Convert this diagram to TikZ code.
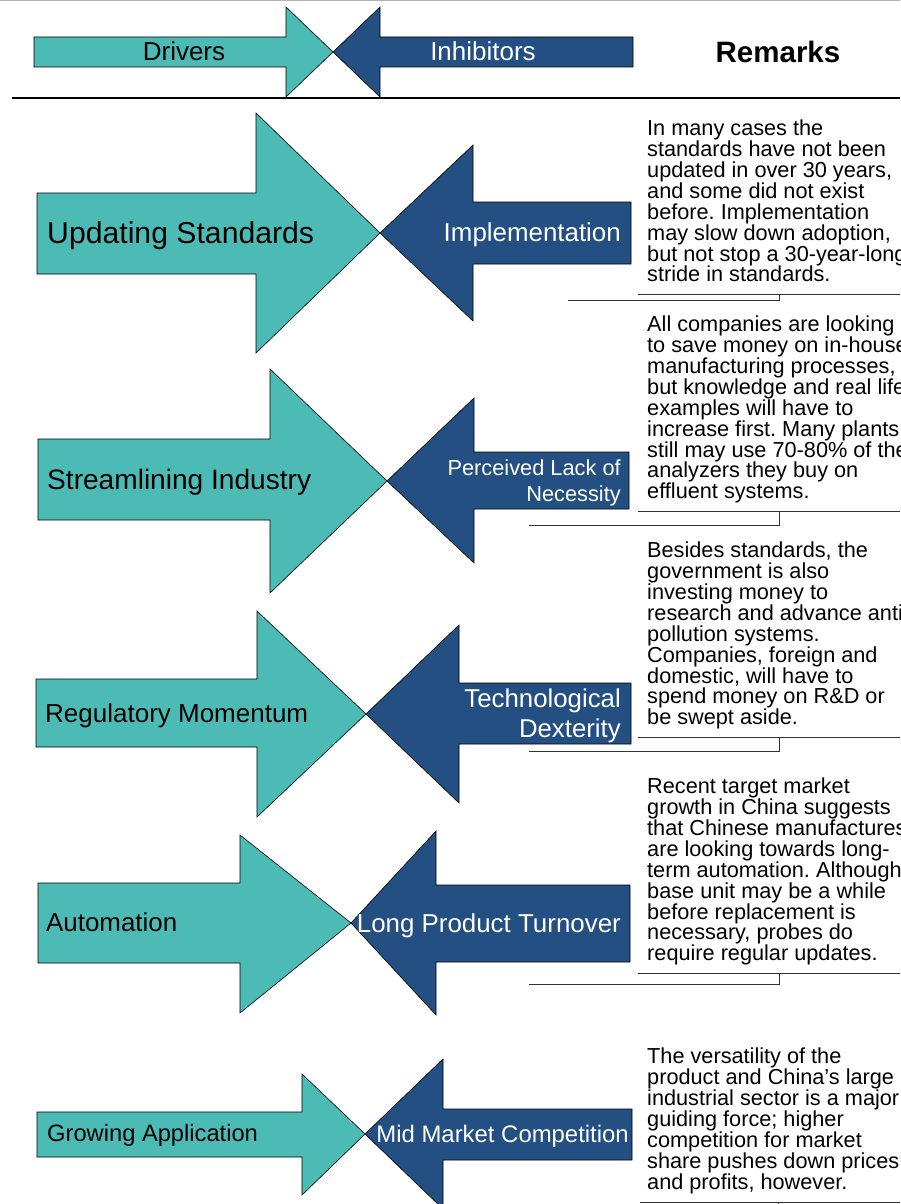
\documentclass[tikz,border=0pt]{standalone}
\usepackage{fontspec}
\setmainfont{Liberation Sans}
\frenchspacing
\definecolor{drvteal}{RGB}{77,187,181}
\definecolor{inhblue}{RGB}{35,79,130}
\newcommand\remfont{\fontsize{21.7}{20.85}\selectfont\lineskiplimit=-30pt}
\newcommand\fsz[2]{\fontsize{#1}{#2}\selectfont}

\begin{document}
\begin{tikzpicture}[x=1pt,y=-1pt,
  drv/.style={fill=drvteal,draw=black,line width=0.6pt},
  inh/.style={fill=inhblue,draw=black,line width=0.6pt},
  hdr/.style={inner sep=0pt,anchor=base},
  lbl/.style={inner sep=0pt,anchor=base west},
  inhlbl/.style={inner sep=0pt,anchor=base east,align=right,text=white},
  remark/.style={inner sep=0pt,anchor=north west,align=left,font=\remfont},
  leader/.style={line width=1pt,draw=black!80}]

  \useasboundingbox (0,0) rectangle (900,1204);
  \draw[gray!60] (0,0.5) -- (900,0.5);

  \draw[drv] (34,37) -- (286,37) -- (286,7) -- (333,52) -- (286,97) -- (286,67) -- (34,67) -- cycle;
  \draw[inh] (633,37) -- (380,37) -- (380,7) -- (333,52) -- (380,97) -- (380,67) -- (633,67) -- cycle;
  \node[hdr,font=\fsz{26}{30}] (drvhead) at (184,60.3) {Drivers};
  \node[hdr,font=\fsz{26}{30},text=white] (inhhead) at (483,60.3) {Inhibitors};
  \node[hdr,font=\fsz{29.5}{34}\bfseries] (remhead) at (778,62.4) {Remarks};
  \draw[line width=1.4pt] (12,98) -- (900,98);

  \draw[drv] (37,193) -- (256,193) -- (256,113) -- (380,233) -- (256,353) -- (256,274) -- (37,274) -- cycle;
  \draw[inh] (631,202) -- (473,202) -- (473,145) -- (380,233) -- (473,321) -- (473,264) -- (631,264) -- cycle;
  \node[lbl,font=\fsz{30.2}{36}] (drv1) at (47,243) {Updating Standards};
  \node[inhlbl,font=\fsz{25.9}{30}] (inh1) at (621,241.3) {Implementation};
  \node[remark] (rem1) at (647,120) {In many cases the\\standards have not been\\updated in over 30 years,\\and some did not exist\\before. Implementation\\may slow down adoption,\\but not stop a 30-year-long\\stride in standards.};
  \draw[leader] (638,294) -- (900,294) (779,294) -- (779,300) -- (568,300);

  \draw[drv] (38,439) -- (270,439) -- (270,369) -- (387,481) -- (270,593) -- (270,520) -- (38,520) -- cycle;
  \draw[inh] (629,452) -- (474,452) -- (474,398) -- (387,481) -- (474,563) -- (474,509) -- (629,509) -- cycle;
  \node[lbl,font=\fsz{28.1}{34}] (drv2) at (47,489) {Streamlining Industry};
  \node[inhlbl,anchor=north east,font=\fsz{21.8}{26}] (inh2) at (621,459) {Perceived Lack of\\Necessity};
  \node[remark] (rem2) at (647,316) {All companies are looking\\to save money on in-house\\manufacturing processes,\\but knowledge and real life\\examples will have to\\increase first. Many plants\\still may use 70-80\% of the\\analyzers they buy on\\effluent systems.};
  \draw[leader] (638,511) -- (900,511) (779,511) -- (779,525) -- (529,525);

  \draw[drv] (36,679) -- (257,679) -- (257,611) -- (366,714) -- (257,817) -- (257,747) -- (36,747) -- cycle;
  \draw[inh] (631,683) -- (459,683) -- (459,625) -- (366,714) -- (459,803) -- (459,744) -- (631,744) -- cycle;
  \node[lbl,font=\fsz{26}{30}] (drv3) at (45,722.3) {Regulatory Momentum};
  \node[inhlbl,anchor=north east,font=\fsz{25.8}{30}] (inh3) at (621,689) {Technological\\Dexterity};
  \node[remark] (rem3) at (647,542) {Besides standards, the\\government is also\\investing money to\\research and advance anti-\\pollution systems.\\Companies, foreign and\\domestic, will have to\\spend money on R\&D or\\be swept aside.};
  \draw[leader] (638,737) -- (900,737) (779,737) -- (779,751) -- (529,751);

  \draw[drv] (38,883) -- (240,883) -- (240,835) -- (351,923) -- (240,1013) -- (240,963) -- (38,963) -- cycle;
  \draw[inh] (630,885) -- (436,885) -- (436,831) -- (351,923) -- (436,1015) -- (436,962) -- (630,962) -- cycle;
  \node[lbl,font=\fsz{25.9}{30}] (drv4) at (46,931.3) {Automation};
  \node[inhlbl,font=\fsz{25.9}{30}] (inh4) at (621,932.3) {Long Product Turnover};
  \node[remark] (rem4) at (647,778) {Recent target market\\growth in China suggests\\that Chinese manufactures\\are looking towards long-\\term automation. Although\\base unit may be a while\\before replacement is\\necessary, probes do\\require regular updates.};
  \draw[leader] (638,973) -- (900,973) (779,973) -- (779,984) -- (529,984);

  \draw[drv] (37,1112) -- (302,1112) -- (302,1074) -- (365,1134) -- (302,1195) -- (302,1157) -- (37,1157) -- cycle;
  \draw[inh] (632,1109) -- (443,1109) -- (443,1059) -- (365,1134) -- (443,1209) -- (443,1160) -- (632,1160) -- cycle;
  \node[lbl,font=\fsz{23.7}{28}] (drv5) at (47,1141.5) {Growing Application};
  \node[inhlbl,font=\fsz{23.9}{28}] (inh5) at (629,1142.6) {Mid Market Competition};
  \node[remark] (rem5) at (647,1048) {The versatility of the\\product and China’s large\\industrial sector is a major\\guiding force; higher\\competition for market\\share pushes down prices\\and profits, however.};
  \draw[leader] (640,1202) -- (900,1202) (778,1202) -- (778,1210);
\end{tikzpicture}
\end{document}
